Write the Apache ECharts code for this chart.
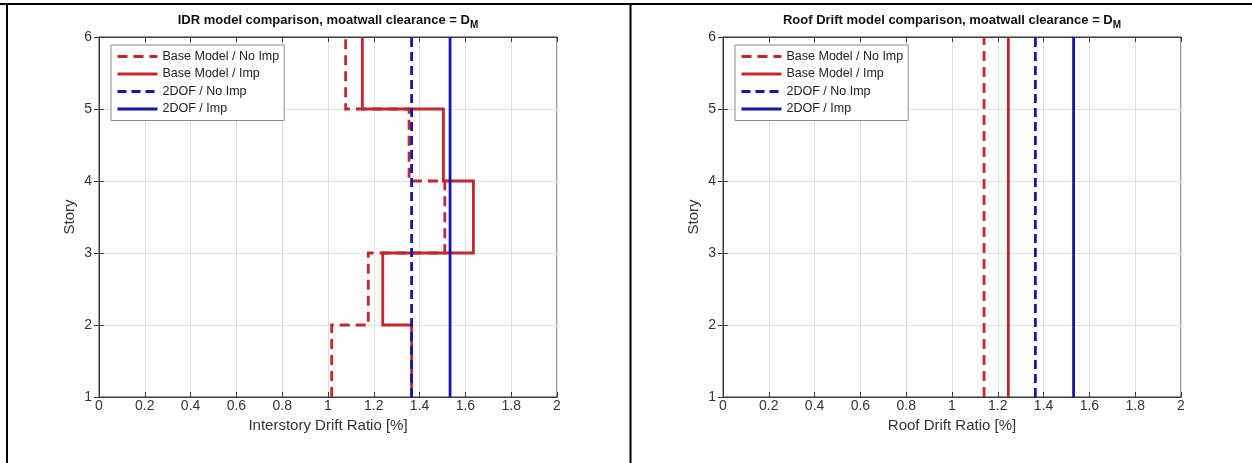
<!DOCTYPE html>
<html>
<head>
<meta charset="utf-8">
<script src="https://cdn.jsdelivr.net/npm/echarts@6/dist/echarts.min.js"></script>
<style>
html,body{margin:0;padding:0;background:#fff;}
#chart{width:1252px;height:463px;}
</style>
</head>
<body>
<div id="chart"></div>
<script>
// ---- data ----
var storyLevels = [1, 2, 3, 4, 5, 6];
var xTicks = [0, 0.2, 0.4, 0.6, 0.8, 1, 1.2, 1.4, 1.6, 1.8, 2];
var seriesNames = ['Base Model / No Imp', 'Base Model / Imp', '2DOF / No Imp', '2DOF / Imp'];
// interstory drift ratio per story segment (1-2, 2-3, 3-4, 4-5, 5-6)
var idrBaseNoImp = [1.016, 1.176, 1.51, 1.354, 1.077];
var idrBaseImp   = [1.365, 1.239, 1.635, 1.504, 1.150];
var idr2dofNoImp = [1.365, 1.365, 1.365, 1.365, 1.365];
var idr2dofImp   = [1.533, 1.533, 1.533, 1.533, 1.533];
// roof drift ratio
var roofBaseNoImp = 1.140;
var roofBaseImp   = 1.246;
var roof2dofNoImp = 1.364;
var roof2dofImp   = 1.531;

// ---- helpers ----
function stairs(vals) {
  var pts = [];
  for (var i = 0; i < vals.length; i++) {
    pts.push([vals[i], storyLevels[i]]);
    pts.push([vals[i], storyLevels[i + 1]]);
  }
  return pts;
}
function constLine(v) {
  return [[v, storyLevels[0]], [v, storyLevels[storyLevels.length - 1]]];
}

var FONT = 'Liberation Sans, Arial, Helvetica, sans-serif';
var RED = '#c4262b';
var BLUE = '#1616a8';
var AXIS = '#3a3a3a';
var styles = [
  {color: RED, type: [10, 6]},
  {color: RED, type: 'solid'},
  {color: BLUE, type: [9, 5]},
  {color: BLUE, type: 'solid'}
];
var grids = [
  {left: 99, top: 37, width: 458, height: 360},
  {left: 723, top: 37, width: 458, height: 360}
];
var xNames = ['Interstory Drift Ratio [%]', 'Roof Drift Ratio [%]'];
var titles = ['IDR model comparison, moatwall clearance = D', 'Roof Drift model comparison, moatwall clearance = D'];

var gridOpt = [], xAxes = [], yAxes = [], series = [], legends = [], graphics = [];
grids.forEach(function (g, gi) {
  gridOpt.push(Object.assign({show: true, borderColor: AXIS, borderWidth: 1, backgroundColor: '#fff'}, g));
  xAxes.push({
    type: 'value', gridIndex: gi, min: 0, max: 2, interval: 0.2, position: 'bottom',
    name: xNames[gi], nameLocation: 'middle', nameGap: 18,
    nameTextStyle: {fontFamily: FONT, fontSize: 15, color: '#333'},
    axisLine: {show: true, lineStyle: {color: AXIS, width: 1}},
    axisTick: {show: true, inside: true, length: 5, lineStyle: {color: AXIS}},
    axisLabel: {fontFamily: FONT, fontSize: 14, color: '#333', margin: 2,
      formatter: function (v) { return String(+v.toFixed(1)); }},
    splitLine: {show: true, lineStyle: {color: '#e0e0e0', width: 1}}
  });
  xAxes.push({
    type: 'value', gridIndex: gi, min: 0, max: 2, interval: 0.2, position: 'top',
    axisLine: {show: true, lineStyle: {color: AXIS}},
    axisTick: {show: true, inside: true, length: 5, lineStyle: {color: AXIS}},
    axisLabel: {show: false}, splitLine: {show: false}
  });
  yAxes.push({
    type: 'value', gridIndex: gi, min: 1, max: 6, interval: 1, position: 'left',
    name: 'Story', nameLocation: 'middle', nameGap: 22, nameRotate: 90,
    nameTextStyle: {fontFamily: FONT, fontSize: 15, color: '#333'},
    axisLine: {show: true, lineStyle: {color: AXIS}},
    axisTick: {show: true, inside: true, length: 5, lineStyle: {color: AXIS}},
    axisLabel: {fontFamily: FONT, fontSize: 14, color: '#333', margin: 7},
    splitLine: {show: true, lineStyle: {color: '#e0e0e0', width: 1}}
  });
  yAxes.push({
    type: 'value', gridIndex: gi, min: 1, max: 6, interval: 1, position: 'right',
    axisLine: {show: true, lineStyle: {color: AXIS}},
    axisTick: {show: true, inside: true, length: 5, lineStyle: {color: AXIS}},
    axisLabel: {show: false}, splitLine: {show: false}
  });
  legends.push({
    left: g.left + 12, top: 45, orient: 'vertical',
    backgroundColor: '#fff', borderColor: '#8a8a8a', borderWidth: 1,
    padding: [4, 5, 4, 5], itemGap: 2.5, itemWidth: 40, itemHeight: 15, itemTextGap: 2,
    itemStyle: {opacity: 0},
    lineStyle: {width: 3},
    textStyle: {fontFamily: FONT, fontSize: 12.5, color: '#222', lineHeight: 15},
    data: seriesNames.map(function (n) { return {name: n}; }),
    selectedMode: false
  });
  graphics.push({
    type: 'text', x: g.left + g.width / 2, y: 20, z: 100,
    style: {
      text: titles[gi] + '{sub|M}',
      fontFamily: FONT, fontSize: 13, fontWeight: 'bold', fill: '#111',
      align: 'center', verticalAlign: 'middle',
      rich: {sub: {fontFamily: FONT, fontSize: 10, fontWeight: 'bold', fill: '#111', padding: [11, 0, 0, 0]}}
    }
  });
});

var idrData = [idrBaseNoImp, idrBaseImp, idr2dofNoImp, idr2dofImp];
var roofData = [roofBaseNoImp, roofBaseImp, roof2dofNoImp, roof2dofImp];
seriesNames.forEach(function (n, i) {
  series.push({
    name: n, type: 'line', xAxisIndex: 0, yAxisIndex: 0, data: stairs(idrData[i]),
    symbol: 'none', animation: false, z: 10 + i,
    lineStyle: {color: styles[i].color, type: styles[i].type, width: 2.8, cap: 'butt', join: 'miter'},
    itemStyle: {color: styles[i].color}
  });
});
seriesNames.forEach(function (n, i) {
  series.push({
    name: n, type: 'line', xAxisIndex: 2, yAxisIndex: 2, data: constLine(roofData[i]),
    symbol: 'none', animation: false, z: 10 + i,
    lineStyle: {color: styles[i].color, type: styles[i].type, width: 2.8, cap: 'butt'},
    itemStyle: {color: styles[i].color}
  });
});

// table frame
graphics.push({type: 'line', shape: {x1: 0, y1: 4, x2: 1252, y2: 4}, style: {stroke: '#000', lineWidth: 2}});
graphics.push({type: 'line', shape: {x1: 7, y1: 4, x2: 7, y2: 463}, style: {stroke: '#000', lineWidth: 2}});
graphics.push({type: 'line', shape: {x1: 630.5, y1: 4, x2: 630.5, y2: 463}, style: {stroke: '#000', lineWidth: 2}});

var chart = echarts.init(document.getElementById('chart'), null, {renderer: 'canvas'});
chart.setOption({
  backgroundColor: '#fff',
  animation: false,
  grid: gridOpt,
  xAxis: xAxes,
  yAxis: yAxes,
  legend: legends,
  series: series,
  graphic: graphics
});
</script>
</body>
</html>
